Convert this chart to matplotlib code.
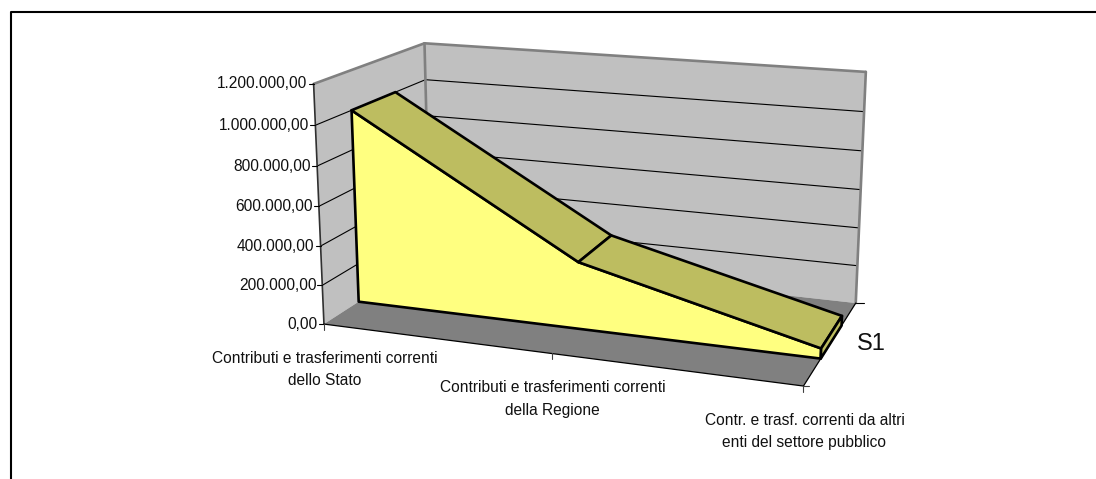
import numpy as np
import matplotlib
matplotlib.use("Agg")
import matplotlib.pyplot as plt

plt.rcParams['font.family'] = ['Liberation Sans', 'DejaVu Sans']

categories = ["Contributi e trasferimenti correnti\ndello Stato",
              "Contributi e trasferimenti correnti\ndella Regione",
              "Contr. e trasf. correnti da altri\nenti del settore pubblico"]
values = [1000000, 340000, 50000]
series_name = "S1"
y_ticks = [0, 200000, 400000, 600000, 800000, 1000000, 1200000]
y_labels = ["0,00", "200.000,00", "400.000,00", "600.000,00", "800.000,00", "1.000.000,00", "1.200.000,00"]

YMAX = 1200000
Z_FRONT = 0.3  # depth of the area inside the box
Z_BACK = 0.7

# box corners on the picture: (x, value, depth) -> pixel, for fitting the camera
world = [(0, 0, 0), (0, 1, 0), (0, 0, 1), (0, 1, 1), (1, 0, 1), (1, 1, 1), (1, 0, 0)]
pixel = [(324, 325), (314, 83), (430, 255), (424, 44), (856, 303), (866, 72), (803, 386)]

rows = []
for (a, b, c), (u, v) in zip(world, pixel):
    u, v = u / 1000, v / 1000
    rows.append([a, b, c, 1, 0, 0, 0, 0, -u * a, -u * b, -u * c, -u])
    rows.append([0, 0, 0, 0, a, b, c, 1, -v * a, -v * b, -v * c, -v])
P = np.linalg.svd(np.array(rows))[2][-1].reshape(3, 4)


def project(x, val, z):
    p = P @ np.array([x, val / YMAX, z, 1.0])
    return p[0] / p[2] * 1000, p[1] / p[2] * 1000


def face(ax, pts, color, zorder, edge="none", lw=0):
    ax.fill([p[0] for p in pts], [p[1] for p in pts], facecolor=color, edgecolor=edge,
            linewidth=lw, zorder=zorder, joinstyle="round")


def line(ax, a, b, color="black", lw=0.8, zorder=2):
    ax.plot([a[0], b[0]], [a[1], b[1]], color=color, linewidth=lw, zorder=zorder,
            solid_capstyle="round")


fig = plt.figure(figsize=(10.96, 4.79), dpi=100)
ax = fig.add_axes([0, 0, 1, 1])
ax.set_xlim(0, 1096)
ax.set_ylim(479, 0)
ax.axis("off")

# chart frame, cut by the picture on the right and at the bottom
ax.plot([11, 11, 1096], [479, 12, 12], color="black", linewidth=1.5, zorder=1)

WALL = "#C0C0C0"
FLOOR = "#808080"
FRONT = "#FFFF80"
TOP = "#BDBD60"

# walls and floor
face(ax, [project(0, 0, 0), project(0, YMAX, 0), project(0, YMAX, 1), project(0, 0, 1)], WALL, 1)
face(ax, [project(0, 0, 1), project(0, YMAX, 1), project(1, YMAX, 1), project(1, 0, 1)], WALL, 1)
face(ax, [project(0, 0, 0), project(0, 0, 1), project(1, 0, 1), project(1, 0, 0)], FLOOR, 1)

for v in y_ticks[1:-1]:
    line(ax, project(0, v, 0), project(0, v, 1))
    line(ax, project(0, v, 1), project(1, v, 1))

# wall edges
line(ax, project(0, YMAX, 0), project(0, YMAX, 1), FLOOR, 1.9, 3)
line(ax, project(0, YMAX, 1), project(1, YMAX, 1), FLOOR, 1.9, 3)
line(ax, project(0, 0, 1), project(0, YMAX, 1), FLOOR, 1.9, 3)
line(ax, project(1, 0, 1), project(1, YMAX, 1), FLOOR, 1.9, 3)
line(ax, project(0, 0, 0), project(0, YMAX, 0), "#303030", 1.2, 3)
line(ax, project(0, 0, 0), project(1, 0, 0), "black", 0.9, 3)
line(ax, project(1, 0, 0), project(1, 0, 1), "black", 0.9, 3)

# value axis ticks and labels
for v, lab in zip(y_ticks, y_labels):
    px, py = project(0, v, 0)
    line(ax, (px - 5, py), (px, py), "black", 0.8, 3)
    ax.text(px - 6, py, lab, ha="right", va="center", fontsize=11.2, color="#111111")

# category ticks and labels
xs = np.linspace(0, 1, len(categories))
for x, lab in zip(xs, categories):
    px, py = project(x, 0, 0)
    line(ax, (px, py), (px, py + 6), "#404040", 0.8, 3)
    ax.text(px + 1, py + 27, lab, ha="center", va="top", fontsize=11.2, color="#111111",
            linespacing=1.6, multialignment="center")

# series axis
px, py = project(1, 0, 0)
line(ax, (px, py), (px + 6, py), "#404040", 0.8, 3)
px, py = project(1, 0, 1)
line(ax, (px, py), (px + 8, py), "black", 0.8, 3)
ax.text(857, 344, series_name, ha="left", va="center", fontsize=17, color="#111111")

# the area: front, top strips, end cap
front = [project(x, 0, Z_FRONT) for x in xs] + [project(x, v, Z_FRONT) for x, v in zip(xs[::-1], values[::-1])]
face(ax, front, FRONT, 4, "black", 1.9)
for i in range(len(values) - 1):
    face(ax, [project(xs[i], values[i], Z_FRONT), project(xs[i], values[i], Z_BACK),
              project(xs[i + 1], values[i + 1], Z_BACK), project(xs[i + 1], values[i + 1], Z_FRONT)],
         TOP, 5, "black", 1.9)
face(ax, [project(1, 0, Z_FRONT), project(1, values[-1], Z_FRONT),
          project(1, values[-1], Z_BACK), project(1, 0, Z_BACK)], TOP, 5, "black", 1.9)

fig.savefig("out.png", dpi=100)
